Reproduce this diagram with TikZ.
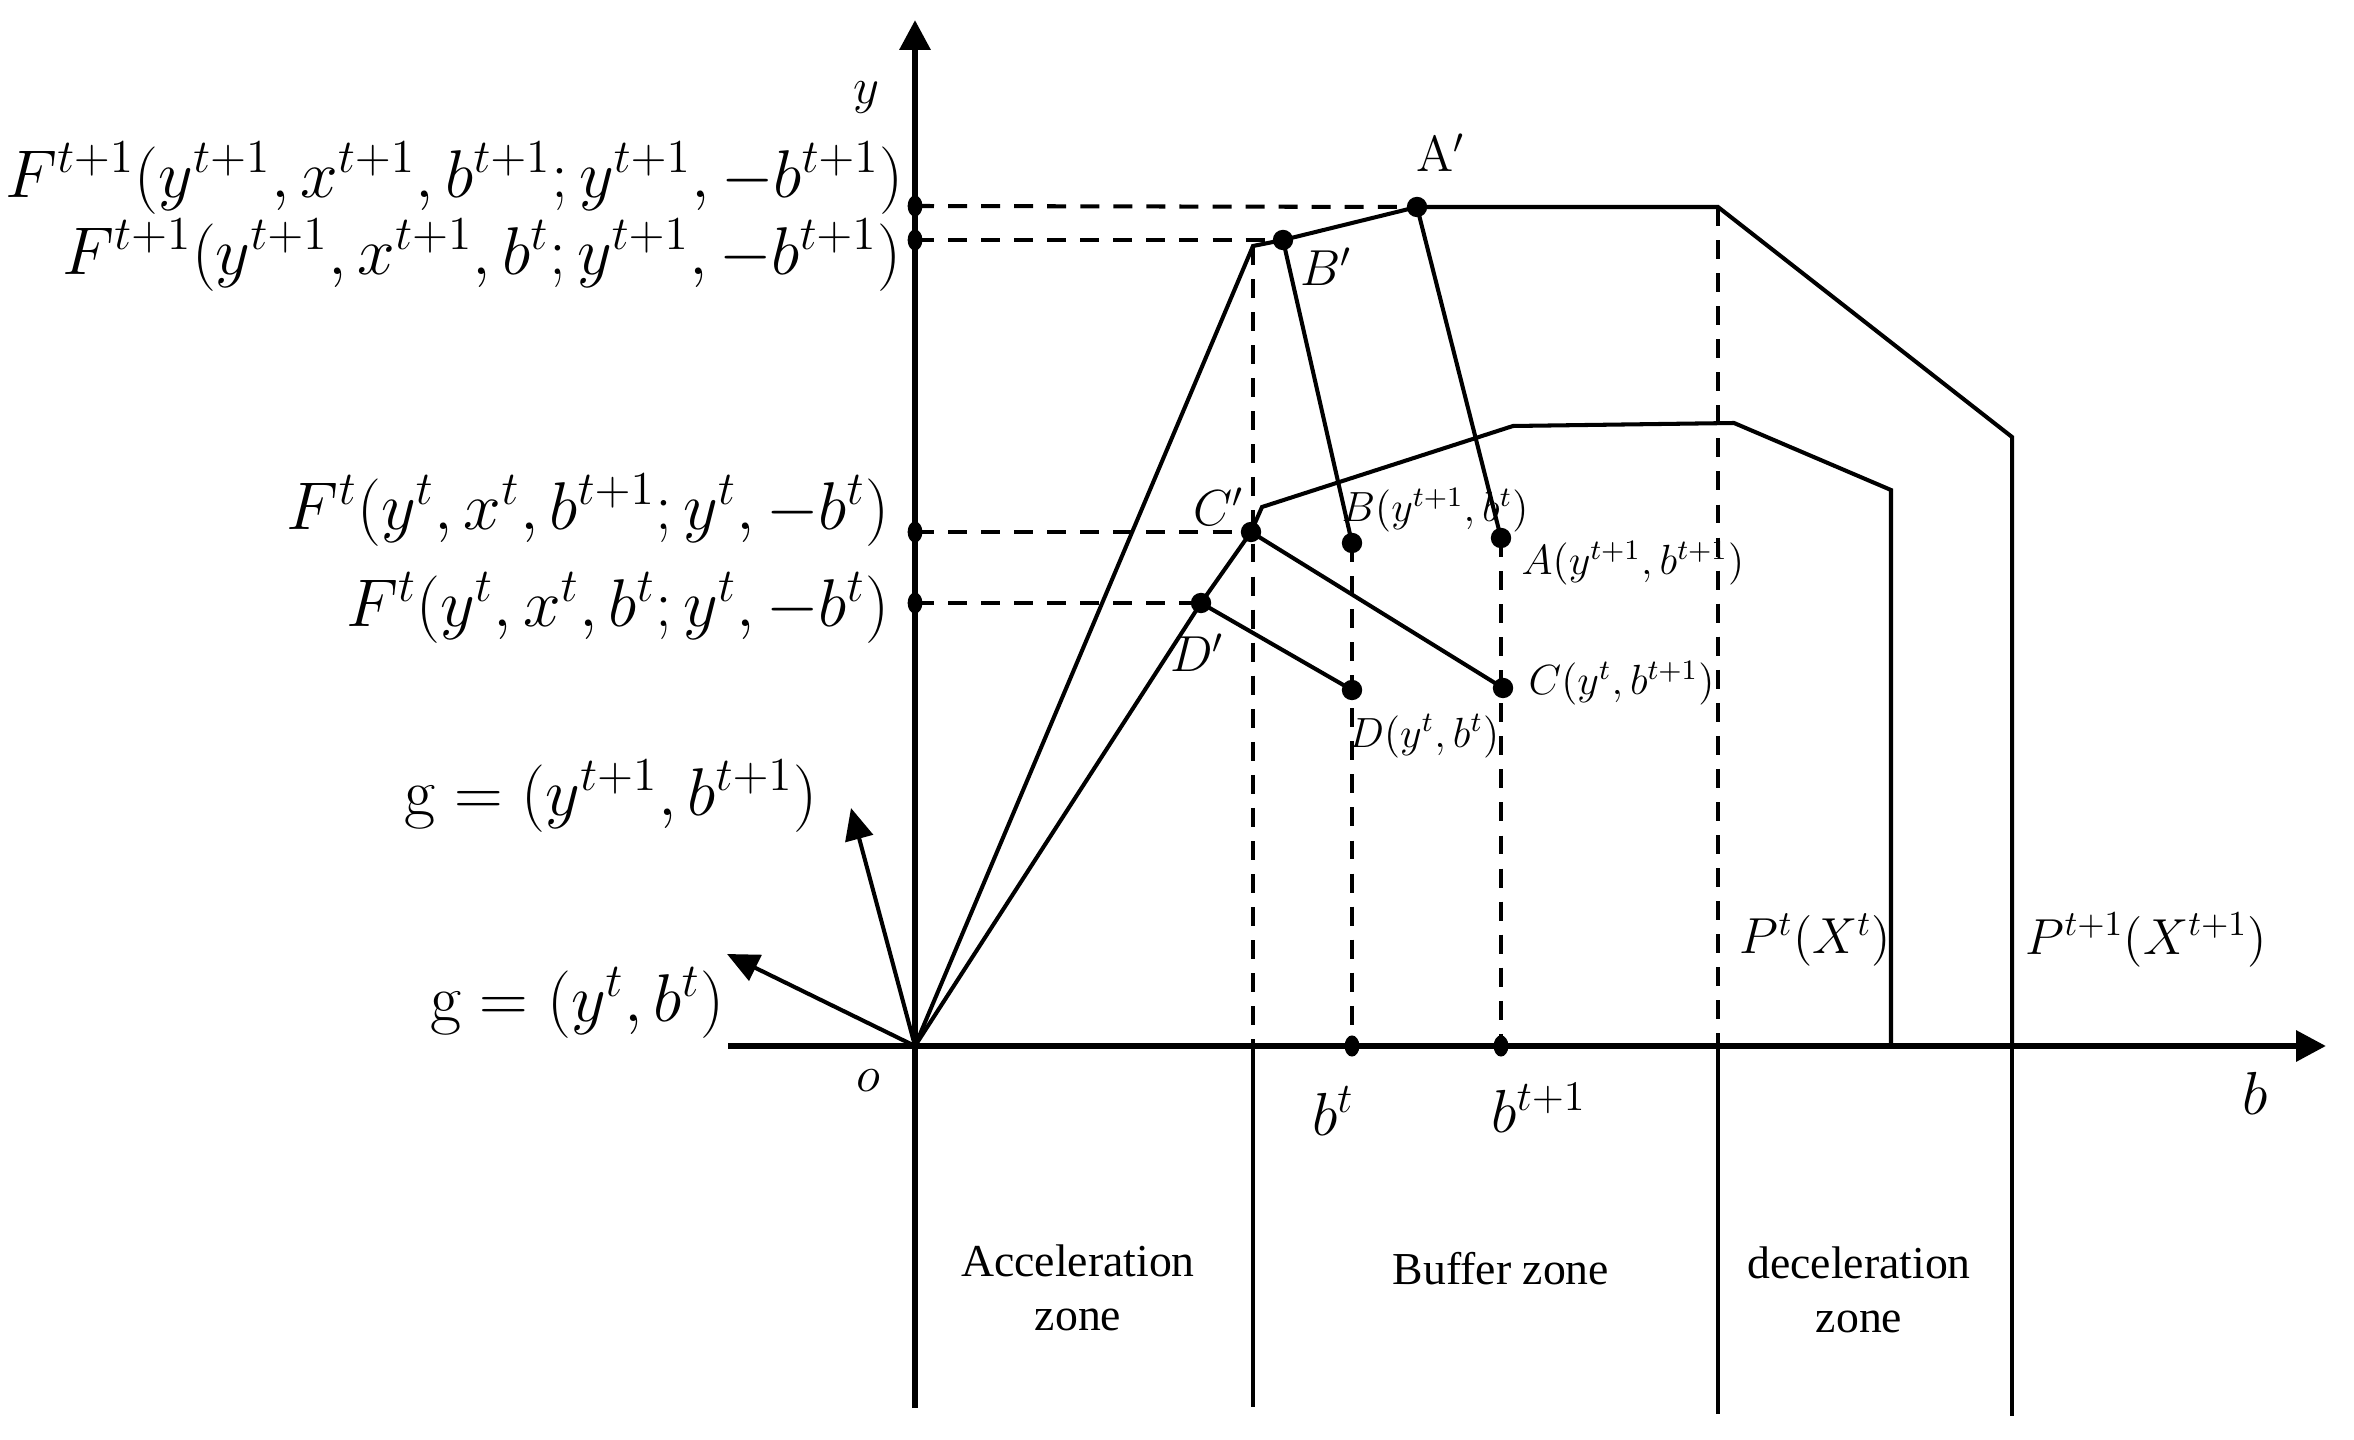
\RequirePackage{fix-cm}
\documentclass[tikz,border=0pt]{standalone}
\usepackage{fontspec}
\newfontfamily\zonefont{Liberation Serif}
\usetikzlibrary{arrows.meta,shapes.geometric}
\begin{document}
\begin{tikzpicture}[x=0.01cm,y=-0.01cm,
  axisline/.style={line width=1.8pt,-{Triangle[length=8.5pt,width=8.5pt]}},
  curve/.style={line width=1.15pt,line join=miter},
  divider/.style={line width=1.15pt},
  dashline/.style={line width=1.15pt,dash pattern=on 5.4pt off 4pt},
  garrow/.style={line width=1.15pt,-{Triangle[length=9pt,width=8pt]}},
  dot/.style={circle,fill=black,inner sep=0pt,minimum size=5.8pt},
  axdot/.style={ellipse,fill=black,inner sep=0pt,minimum width=4.2pt,minimum height=6pt},
  biglbl/.style={inner sep=0pt,font=\fontsize{19.2}{21}\selectfont},
  midlbl/.style={inner sep=0pt,font=\fontsize{14.4}{16}\selectfont},
  axlbl/.style={inner sep=0pt,font=\fontsize{17.28}{19}\selectfont},
  smalllbl/.style={inner sep=0pt,font=\fontsize{12}{13}\selectfont},
  zonelbl/.style={inner sep=0pt,align=center,font=\zonefont\fontsize{13}{15.5}\selectfont}]
\useasboundingbox (0,0) rectangle (2354,1440);
% coordinates
\coordinate (O) at (915,1046);
\coordinate (ytip) at (915,20);
\coordinate (ybot) at (915,1408);
\coordinate (xl) at (728,1046);
\coordinate (xtip) at (2326,1046);
\coordinate (P1a) at (1253,246);
\coordinate (P1b) at (1718,207);
\coordinate (P1c) at (2012,437);
\coordinate (P1d) at (2012,1046);
\coordinate (P0a) at (1262,507);
\coordinate (P0b) at (1513,426);
\coordinate (P0c) at (1734,423);
\coordinate (P0d) at (1891,490);
\coordinate (P0e) at (1891,1046);
\coordinate (g1tip) at (851,808);
\coordinate (g2tip) at (727,954);
\coordinate (bA) at (1253,1046);
\coordinate (bAe) at (1253,1407);
\coordinate (bB) at (1718,1046);
\coordinate (bBe) at (1718,1414);
\coordinate (bCe) at (2012,1416);
% axes
\draw[axisline] (xl) -- (xtip);
\draw[axisline] (ybot) -- (ytip);
% dots
\node[dot] (Ap) at (1417,207) {};
\node[dot] (Bp) at (1283,240) {};
\node[dot] (Cp) at (1251,532) {};
\node[dot] (Dp) at (1201,603) {};
\node[dot] (A) at (1501,538) {};
\node[dot] (B) at (1352,543) {};
\node[dot] (C) at (1503,688) {};
\node[dot] (D) at (1352,690) {};
\node[axdot] (ya) at (915,206) {};
\node[axdot] (yb) at (915,240) {};
\node[axdot] (yc) at (915,532) {};
\node[axdot] (yd) at (915,603) {};
\node[axdot] (xb) at (1352,1046) {};
\node[axdot] (xa) at (1501,1046) {};
% curves
\draw[curve] (O) -- (P1a) -- (Bp.center) -- (Ap.center) -- (P1b) -- (P1c) -- (P1d);
\draw[curve] (O) -- (Dp.center) -- (Cp.center) -- (P0a) -- (P0b) -- (P0c) -- (P0d) -- (P0e);
% dividers below axis
\draw[divider] (bA) -- (bAe);
\draw[divider] (bB) -- (bBe);
\draw[divider] (P1d) -- (bCe);
% dashed
\draw[dashline] (ya.center) -- (Ap.center);
\draw[dashline] (yb.center) -- (Bp.center);
\draw[dashline] (yc.center) -- (Cp.center);
\draw[dashline] (yd.center) -- (Dp.center);
\draw[dashline] (P1a) -- (bA);
\draw[dashline] (B.center) -- (xb.center);
\draw[dashline] (A.center) -- (xa.center);
\draw[dashline] (P1b) -- (bB);
% projection lines
\draw[curve] (Ap.center) -- (A.center);
\draw[curve] (Bp.center) -- (B.center);
\draw[curve] (Cp.center) -- (C.center);
\draw[curve] (Dp.center) -- (D.center);
% direction arrows
\draw[garrow] (O) -- (g1tip);
\draw[garrow] (O) -- (g2tip);
% labels
\node[biglbl,anchor=east] (F1) at (904,178) {$F^{t+1}(y^{t+1},x^{t+1},b^{t+1};y^{t+1},-b^{t+1})$};
\node[biglbl,anchor=east] (F2) at (902,255) {$F^{t+1}(y^{t+1},x^{t+1},b^{t};y^{t+1},-b^{t+1})$};
\node[biglbl,anchor=east] (F3) at (890,510) {$F^{t}(y^{t},x^{t},b^{t+1};y^{t},-b^{t})$};
\node[biglbl,anchor=east] (F4) at (890,608) {$F^{t}(y^{t},x^{t},b^{t};y^{t},-b^{t})$};
\node[biglbl,anchor=east] (g1) at (818,796) {$\mathrm{g}=(y^{t+1},b^{t+1})$};
\node[biglbl,anchor=east] (g2) at (725,1003) {$\mathrm{g}=(y^{t},b^{t})$};
\node[midlbl] (ylbl) at (866,98) {$y$};
\node[midlbl] (olbl) at (868,1081) {$o$};
\node[axlbl] (btlbl) at (1333,1111) {$b^{t}$};
\node[axlbl] (bt1lbl) at (1539,1108) {$b^{t+1}$};
\node[axlbl] (blbl) at (2255,1093) {$b$};
\node[midlbl] (Aplbl) at (1441,153) {$\mathrm{A}'$};
\node[midlbl] (Bplbl) at (1326,267) {$B'$};
\node[midlbl] (Cplbl) at (1219,507) {$C'$};
\node[midlbl] (Dplbl) at (1197,653) {$D'$};
\node[smalllbl,anchor=west] (Blbl) at (1341,510) {$B(y^{t+1},b^{t})$};
\node[smalllbl,anchor=west] (Albl) at (1521,563) {$A(y^{t+1},b^{t+1})$};
\node[smalllbl,anchor=west] (Clbl) at (1528,683) {$C(y^{t},b^{t+1})$};
\node[smalllbl,anchor=west] (Dlbl) at (1348,736) {$D(y^{t},b^{t})$};
\node[midlbl,anchor=west] (P0lbl) at (1739,940) {$P^{t}(X^{t})$};
\node[midlbl,anchor=west] (P1lbl) at (2025,940) {$P^{t+1}(X^{t+1})$};
\node[zonelbl] (z1) at (1078,1288) {Acceleration\\zone};
\node[zonelbl] (z2) at (1501,1269) {Buffer zone};
\node[zonelbl] (z3) at (1859,1290) {deceleration\\zone};
\end{tikzpicture}
\end{document}
